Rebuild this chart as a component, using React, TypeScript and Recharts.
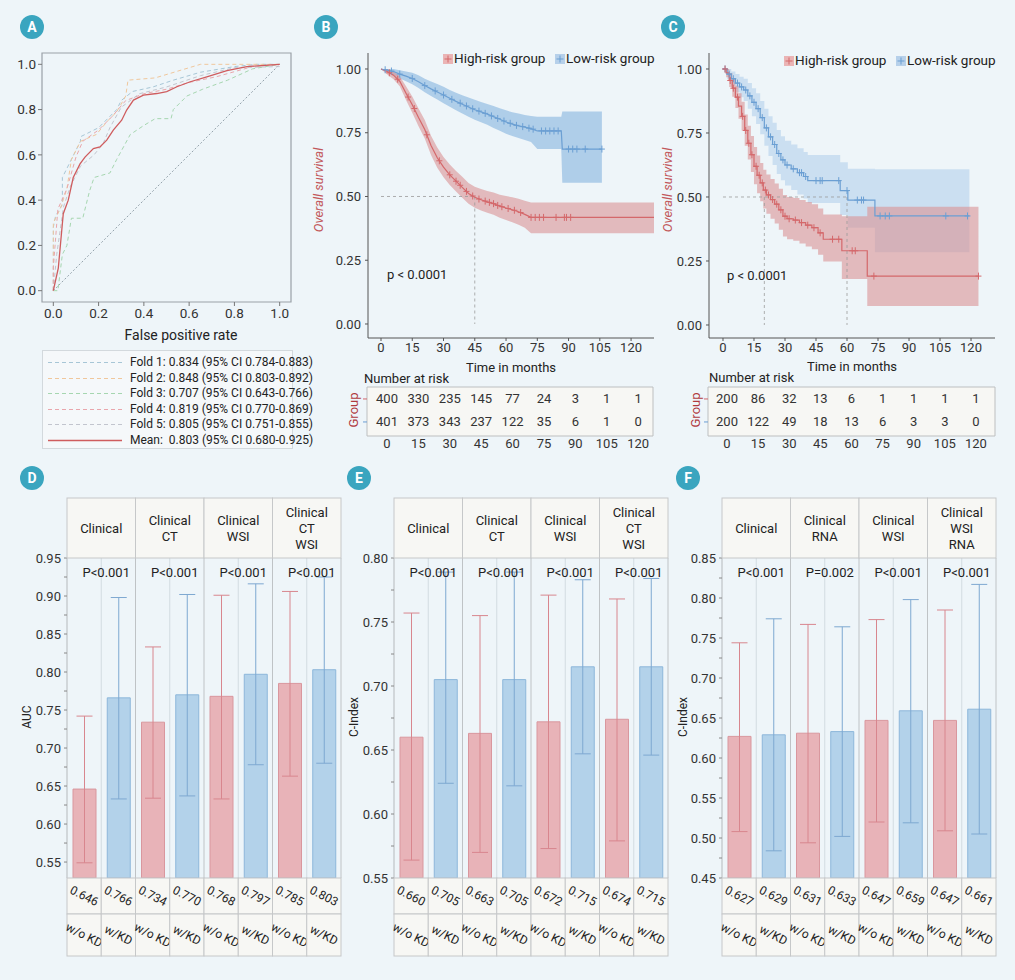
import React from "react";
import {
  LineChart,
  Line,
  XAxis,
  YAxis,
  ReferenceLine,
  ReferenceArea,
  ComposedChart,
  Area,
  Scatter,
  BarChart,
  Bar,
  ErrorBar,
  Cell,
  CartesianGrid,
} from "recharts";

const BG = "#eef5f9";
const TEAL = "#3aa5bf";
const RED = "#d4686b";
const BLUE = "#6b9fd3";
const CELL_FILL = "#f7f7f4";
const CELL_LINE = "#c6c8c9";

// ---------- A: ROC ----------
const rocTicks = [0, 0.2, 0.4, 0.6, 0.8, 1.0];
const fold1Fpr = [0, 0, 0.01, 0.04, 0.04, 0.08, 0.12, 0.12, 0.2, 0.28, 0.3, 0.35, 0.44, 0.53, 0.65, 0.8, 0.9, 1];
const fold1Tpr = [0, 0.28, 0.33, 0.38, 0.5, 0.58, 0.66, 0.68, 0.72, 0.8, 0.84, 0.88, 0.9, 0.93, 0.965, 0.99, 1, 1];
const fold2Fpr = [0, 0, 0.03, 0.06, 0.08, 0.12, 0.19, 0.24, 0.28, 0.32, 0.33, 0.45, 0.55, 0.65, 1];
const fold2Tpr = [0, 0.3, 0.36, 0.45, 0.58, 0.66, 0.69, 0.75, 0.79, 0.86, 0.93, 0.94, 0.97, 1, 1];
const fold3Fpr = [0, 0.02, 0.04, 0.06, 0.08, 0.13, 0.16, 0.18, 0.25, 0.28, 0.34, 0.4, 0.45, 0.52, 0.53, 0.59, 0.66, 0.77, 0.88, 1];
const fold3Tpr = [0, 0, 0.16, 0.2, 0.32, 0.32, 0.44, 0.5, 0.52, 0.58, 0.69, 0.73, 0.76, 0.76, 0.8, 0.86, 0.89, 0.93, 0.98, 1];
const fold4Fpr = [0, 0, 0.02, 0.06, 0.1, 0.13, 0.2, 0.26, 0.32, 0.4, 0.5, 0.6, 0.72, 0.88, 1];
const fold4Tpr = [0, 0.1, 0.36, 0.45, 0.59, 0.66, 0.71, 0.77, 0.84, 0.87, 0.89, 0.92, 0.945, 0.99, 1];
const fold5Fpr = [0, 0.015, 0.045, 0.075, 0.12, 0.18, 0.22, 0.25, 0.3, 0.38, 0.5, 0.65, 0.8, 1];
const fold5Tpr = [0, 0.16, 0.37, 0.46, 0.55, 0.6, 0.65, 0.72, 0.81, 0.87, 0.9, 0.95, 0.985, 0.99];
const meanFpr = [0, 0.022, 0.044, 0.066, 0.088, 0.118, 0.14, 0.177, 0.206, 0.236, 0.265, 0.302, 0.324, 0.354, 0.398, 0.457, 0.501, 0.546, 0.605, 0.678, 0.767, 0.855, 1];
const meanTpr = [0, 0.1, 0.34, 0.4, 0.5, 0.56, 0.59, 0.628, 0.635, 0.665, 0.709, 0.753, 0.798, 0.842, 0.864, 0.871, 0.879, 0.901, 0.923, 0.945, 0.972, 0.99, 1];
const foldLabels = [
  "Fold 1: 0.834 (95% CI 0.784-0.883)",
  "Fold 2: 0.848 (95% CI 0.803-0.892)",
  "Fold 3: 0.707 (95% CI 0.643-0.766)",
  "Fold 4: 0.819 (95% CI 0.770-0.869)",
  "Fold 5: 0.805 (95% CI 0.751-0.855)",
];
const meanLabel = "Mean:  0.803 (95% CI 0.680-0.925)";
const foldColors = ["#a7c6d6", "#f0c79c", "#a6d6b0", "#e9a6ac", "#c2c5ce"];

// ---------- B / C: Kaplan-Meier ----------
const KM_TICKS = [0, 15, 30, 45, 60, 75, 90, 105, 120];
const SURV_TICKS = [0, 0.25, 0.5, 0.75, 1];

const bHighT = [0, 3, 6, 9, 12, 15, 18, 21, 24, 27, 30, 33, 36, 39, 42, 45, 48, 51, 54, 57, 60, 63, 66, 69, 72, 131];
const bHighS = [1, 0.99, 0.976, 0.952, 0.905, 0.86, 0.81, 0.763, 0.7, 0.652, 0.615, 0.585, 0.56, 0.536, 0.512, 0.497, 0.487, 0.479, 0.472, 0.462, 0.455, 0.448, 0.44, 0.43, 0.418, 0.418];
const bHighLo = [1, 0.978, 0.96, 0.932, 0.878, 0.828, 0.775, 0.727, 0.663, 0.613, 0.575, 0.545, 0.52, 0.495, 0.472, 0.456, 0.445, 0.436, 0.428, 0.417, 0.408, 0.399, 0.389, 0.377, 0.356, 0.356];
const bHighHi = [1, 1, 0.99, 0.972, 0.932, 0.892, 0.845, 0.8, 0.738, 0.692, 0.655, 0.625, 0.6, 0.577, 0.553, 0.538, 0.529, 0.522, 0.516, 0.507, 0.502, 0.497, 0.491, 0.483, 0.476, 0.476];
const bLowT = [0, 3, 6, 9, 12, 15, 18, 21, 24, 27, 30, 33, 36, 39, 42, 45, 48, 51, 54, 57, 60, 63, 66, 69, 72, 75, 86.5, 87, 106];
const bLowS = [1, 0.995, 0.99, 0.98, 0.972, 0.963, 0.95, 0.935, 0.922, 0.91, 0.898, 0.885, 0.873, 0.862, 0.851, 0.84, 0.832, 0.823, 0.813, 0.803, 0.792, 0.784, 0.777, 0.772, 0.766, 0.757, 0.757, 0.686, 0.686];
const bLowLo = [1, 0.986, 0.976, 0.963, 0.952, 0.94, 0.925, 0.909, 0.894, 0.88, 0.866, 0.852, 0.838, 0.825, 0.813, 0.801, 0.791, 0.781, 0.769, 0.758, 0.746, 0.737, 0.729, 0.722, 0.714, 0.686, 0.686, 0.554, 0.554];
const bLowHi = [1, 1, 1, 0.995, 0.99, 0.985, 0.975, 0.962, 0.951, 0.941, 0.93, 0.918, 0.907, 0.897, 0.888, 0.879, 0.871, 0.863, 0.855, 0.846, 0.838, 0.83, 0.825, 0.82, 0.816, 0.813, 0.813, 0.833, 0.833];
const bHighCensorT = [4, 8, 13, 16, 22, 28, 33, 36, 38, 41, 44, 47, 50, 52, 54, 56, 58, 61, 64, 67, 72, 74, 76, 78, 84, 88, 89, 91];
const bHighCensorS = [0.985, 0.96, 0.89, 0.845, 0.742, 0.64, 0.585, 0.56, 0.544, 0.52, 0.502, 0.49, 0.482, 0.477, 0.472, 0.465, 0.46, 0.453, 0.446, 0.437, 0.418, 0.418, 0.418, 0.418, 0.418, 0.418, 0.418, 0.418];
const bLowCensorT = [2, 5, 9, 15, 21, 26, 30, 34, 38, 41, 44, 47, 50, 53, 56, 59, 62, 65, 68, 71, 73, 77, 79, 81, 83, 85, 90, 92, 94, 98, 106];
const bLowCensorS = [0.997, 0.992, 0.98, 0.963, 0.935, 0.914, 0.898, 0.881, 0.866, 0.855, 0.844, 0.835, 0.826, 0.816, 0.806, 0.796, 0.787, 0.779, 0.774, 0.768, 0.764, 0.757, 0.757, 0.757, 0.757, 0.757, 0.686, 0.686, 0.686, 0.686, 0.686];
const bMedians = [45];
const bRiskHigh = [400, 330, 235, 145, 77, 24, 3, 1, 1];
const bRiskLow = [401, 373, 343, 237, 122, 35, 6, 1, 0];

const cHighT = [0, 1.5, 3, 4.5, 6, 7.5, 9, 10.5, 12, 13.5, 15, 16.5, 18, 19.5, 21, 23, 25, 27, 29, 31, 34, 37, 40, 43, 46, 48.5, 57.5, 69.8, 123.6];
const cHighS = [1, 0.985, 0.955, 0.925, 0.89, 0.855, 0.815, 0.76, 0.71, 0.665, 0.62, 0.585, 0.555, 0.527, 0.508, 0.49, 0.472, 0.45, 0.425, 0.415, 0.41, 0.4, 0.39, 0.38, 0.36, 0.335, 0.29, 0.191, 0.191];
const cHighLo = [1, 0.968, 0.93, 0.892, 0.848, 0.806, 0.76, 0.7, 0.646, 0.598, 0.55, 0.515, 0.483, 0.455, 0.435, 0.415, 0.396, 0.372, 0.346, 0.335, 0.329, 0.318, 0.307, 0.296, 0.274, 0.248, 0.18, 0.074, 0.074];
const cHighHi = [1, 1, 0.984, 0.962, 0.935, 0.905, 0.872, 0.822, 0.778, 0.738, 0.695, 0.662, 0.633, 0.606, 0.588, 0.57, 0.553, 0.532, 0.508, 0.5, 0.496, 0.488, 0.48, 0.472, 0.455, 0.432, 0.425, 0.462, 0.462];
const cLowT = [0, 2, 4, 6, 8, 10, 12, 14, 16, 18, 20, 22, 24, 26, 28, 30, 33, 36, 39, 41, 56.7, 60.4, 73.5, 119.2];
const cLowS = [1, 0.98, 0.962, 0.945, 0.93, 0.918, 0.895, 0.87, 0.845, 0.81, 0.77, 0.735, 0.705, 0.67, 0.645, 0.625, 0.61, 0.595, 0.58, 0.564, 0.525, 0.488, 0.426, 0.426];
const cLowLo = [1, 0.96, 0.935, 0.91, 0.89, 0.875, 0.845, 0.815, 0.785, 0.745, 0.7, 0.66, 0.625, 0.59, 0.565, 0.545, 0.527, 0.51, 0.494, 0.477, 0.43, 0.38, 0.284, 0.284];
const cLowHi = [1, 1, 0.99, 0.98, 0.97, 0.962, 0.945, 0.925, 0.905, 0.875, 0.845, 0.815, 0.79, 0.762, 0.737, 0.72, 0.705, 0.69, 0.676, 0.664, 0.636, 0.61, 0.608, 0.608];
const cHighCensorT = [1, 3.5, 5, 7, 9.5, 11, 12.5, 14, 16, 17.5, 19, 20.5, 22, 24, 26, 28, 30, 32, 35, 38, 41, 44, 47, 53, 56, 62.5, 64, 73, 123.6];
const cHighCensorS = [1, 0.955, 0.925, 0.89, 0.815, 0.76, 0.71, 0.665, 0.62, 0.585, 0.555, 0.527, 0.508, 0.49, 0.472, 0.45, 0.425, 0.415, 0.41, 0.4, 0.39, 0.38, 0.36, 0.335, 0.335, 0.29, 0.29, 0.191, 0.191];
const cLowCensorT = [1, 3, 5, 7, 9, 11, 13, 15, 17, 19, 21, 23, 25, 27, 29, 31, 34, 37, 38, 40, 45, 47, 48, 56, 60, 65, 67, 68, 76, 78.5, 80.5, 107.8, 118.3];
const cLowCensorS = [1, 0.98, 0.962, 0.945, 0.93, 0.918, 0.895, 0.87, 0.845, 0.81, 0.77, 0.735, 0.705, 0.67, 0.645, 0.625, 0.61, 0.595, 0.595, 0.58, 0.564, 0.564, 0.564, 0.564, 0.525, 0.488, 0.488, 0.488, 0.426, 0.426, 0.426, 0.426, 0.426];
const cMedians = [20, 60];
const cRiskHigh = [200, 86, 32, 13, 6, 1, 1, 1, 1];
const cRiskLow = [200, 122, 49, 18, 13, 6, 3, 3, 0];

// ---------- D / E / F: bars ----------
const kdLabels = ["w/o KD", "w/KD"];
const dGroups = ["Clinical", "Clinical\nCT", "Clinical\nWSI", "Clinical\nCT\nWSI"];
const dPvals = ["P<0.001", "P<0.001", "P<0.001", "P<0.001"];
const dValues = [0.646, 0.766, 0.734, 0.77, 0.768, 0.797, 0.785, 0.803];
const dLow = [0.549, 0.633, 0.634, 0.637, 0.633, 0.678, 0.663, 0.68];
const dHigh = [0.742, 0.898, 0.833, 0.902, 0.901, 0.916, 0.906, 0.925];
const dTicks = [0.55, 0.575, 0.6, 0.625, 0.65, 0.675, 0.7, 0.725, 0.75, 0.775, 0.8, 0.825, 0.85, 0.875, 0.9, 0.925, 0.95];

const eGroups = ["Clinical", "Clinical\nCT", "Clinical\nWSI", "Clinical\nCT\nWSI"];
const ePvals = ["P<0.001", "P<0.001", "P<0.001", "P<0.001"];
const eValues = [0.66, 0.705, 0.663, 0.705, 0.672, 0.715, 0.674, 0.715];
const eLow = [0.564, 0.624, 0.57, 0.622, 0.573, 0.647, 0.579, 0.646];
const eHigh = [0.757, 0.789, 0.755, 0.789, 0.771, 0.783, 0.768, 0.784];
const eTicks = [0.55, 0.575, 0.6, 0.625, 0.65, 0.675, 0.7, 0.725, 0.75, 0.775, 0.8];

const fGroups = ["Clinical", "Clinical\nRNA", "Clinical\nWSI", "Clinical\nWSI\nRNA"];
const fPvals = ["P<0.001", "P=0.002", "P<0.001", "P<0.001"];
const fValues = [0.627, 0.629, 0.631, 0.633, 0.647, 0.659, 0.647, 0.661];
const fLow = [0.508, 0.484, 0.494, 0.502, 0.52, 0.519, 0.509, 0.505];
const fHigh = [0.744, 0.774, 0.767, 0.764, 0.773, 0.798, 0.785, 0.817];
const fTicks = [0.45, 0.475, 0.5, 0.525, 0.55, 0.575, 0.6, 0.625, 0.65, 0.675, 0.7, 0.725, 0.75, 0.775, 0.8, 0.825, 0.85];

// ---------- helpers ----------
function Tx({ x, y, children, size = 13, anchor = "start", rotate = 0, color = "#222", style = {} }: any) {
  const tx = anchor === "middle" ? "-50%" : anchor === "end" ? "-100%" : "0";
  return (
    <div
      style={{
        position: "absolute",
        left: x,
        top: y,
        transform: `translate(${tx}, -50%) rotate(${rotate}deg)`,
        fontSize: size,
        color,
        whiteSpace: "nowrap",
        lineHeight: 1,
        ...style,
      }}
    >
      {children}
    </div>
  );
}

function PanelTag({ x, y, letter }: any) {
  return (
    <div
      style={{
        position: "absolute",
        left: x - 12,
        top: y - 12,
        width: 24,
        height: 24,
        borderRadius: 12,
        background: TEAL,
        color: "#fff",
        fontWeight: 700,
        fontSize: 14,
        lineHeight: "24px",
        textAlign: "center",
      }}
    >
      {letter}
    </div>
  );
}

const zip = (xs: number[], ys: number[]) => xs.map((x, i) => ({ x, y: ys[i] }));
const kmRows = (t: number[], s: number[], lo: number[], hi: number[]) =>
  t.map((v, i) => ({ t: v, s: s[i], lo: lo[i], hi: hi[i] }));
const censorRows = (t: number[], s: number[]) => t.map((v, i) => ({ t: v, s: s[i] }));

const plusShape = (color: string) => (p: any) => (
  <g>
    <line x1={p.cx} x2={p.cx} y1={p.cy - 3.5} y2={p.cy + 3.5} stroke={color} strokeWidth={1} />
    <line x1={p.cx - 3} x2={p.cx + 3} y1={p.cy} y2={p.cy} stroke={color} strokeWidth={1} />
  </g>
);

function RocPanel() {
  const folds = [
    zip(fold1Fpr, fold1Tpr),
    zip(fold2Fpr, fold2Tpr),
    zip(fold3Fpr, fold3Tpr),
    zip(fold4Fpr, fold4Tpr),
    zip(fold5Fpr, fold5Tpr),
  ];
  return (
    <LineChart width={300} height={345} margin={{ top: 53, right: 9, left: 8, bottom: 3 }}>
      <XAxis
        type="number"
        dataKey="x"
        domain={[-0.05, 1.05]}
        ticks={rocTicks}
        allowDataOverflow
        interval={0}
        height={40}
        axisLine={false}
        tickLine={{ stroke: "#777" }}
        tickSize={4}
        tickMargin={2}
        tickFormatter={(v) => v.toFixed(1)}
        tick={{ fontSize: 13.5, fill: "#333" }}
      />
      <YAxis
        type="number"
        domain={[-0.05, 1.05]}
        ticks={rocTicks}
        allowDataOverflow
        interval={0}
        width={34}
        axisLine={false}
        tickLine={{ stroke: "#777" }}
        tickSize={4}
        tickMargin={2}
        tickFormatter={(v) => v.toFixed(1)}
        tick={{ fontSize: 13.5, fill: "#333" }}
      />
      <ReferenceArea x1={-0.05} x2={1.05} y1={-0.05} y2={1.05} fill="none" stroke="#9aa1a7" strokeWidth={1.2} />
      <ReferenceLine
        segment={[
          { x: 0, y: 0 },
          { x: 1, y: 1 },
        ]}
        stroke="#7f8e98"
        strokeDasharray="2 2"
        strokeWidth={0.8}
      />
      {folds.map((d, i) => (
        <Line
          key={i}
          data={d}
          dataKey="y"
          type="linear"
          stroke={foldColors[i]}
          strokeWidth={1}
          strokeDasharray="4 3"
          dot={false}
          isAnimationActive={false}
        />
      ))}
      <Line
        data={zip(meanFpr, meanTpr)}
        dataKey="y"
        type="linear"
        stroke="#cf5c5e"
        strokeWidth={1.3}
        dot={false}
        isAnimationActive={false}
      />
    </LineChart>
  );
}

function RocLegend() {
  const rows = [...foldLabels.map((l, i) => ({ l, c: foldColors[i], dash: "4 3" })), { l: meanLabel, c: "#cf5c5e", dash: "" }];
  return (
    <div
      style={{
        position: "absolute",
        left: 42,
        top: 350,
        width: 251,
        height: 99,
        background: "#f5f8fa",
        border: "1px solid #d3d9dd",
        boxSizing: "border-box",
      }}
    >
      {rows.map((r, i) => (
        <div key={i} style={{ position: "absolute", left: 0, top: 4 + i * 15.5, height: 15, width: 250 }}>
          <svg width={80} height={15} style={{ position: "absolute", left: 5, top: 0 }}>
            <line x1={0} x2={74} y1={7.5} y2={7.5} stroke={r.c} strokeWidth={r.dash ? 1 : 1.4} strokeDasharray={r.dash} />
          </svg>
          <div style={{ position: "absolute", left: 87, top: 0, fontSize: 12, lineHeight: "15px", color: "#222", whiteSpace: "pre" }}>
            {r.l}
          </div>
        </div>
      ))}
    </div>
  );
}

function KmPlot({ high, low, highCensor, lowCensor, domainX, domainY, marginLeft, marginRight, curve, medians, lowFill, lowOpacity }: any) {
  return (
    <ComposedChart width={360} height={372} margin={{ top: 53, right: marginRight, left: marginLeft, bottom: 0 }}>
      <XAxis
        type="number"
        dataKey="t"
        domain={domainX}
        ticks={KM_TICKS}
        allowDataOverflow
        interval={0}
        height={34}
        stroke="#555"
        tickSize={3}
        tickMargin={2}
        tick={{ fontSize: 13, fill: "#333" }}
      />
      <YAxis
        type="number"
        domain={domainY}
        ticks={SURV_TICKS}
        allowDataOverflow
        interval={0}
        width={50}
        stroke="#555"
        tickSize={3}
        tickMargin={4}
        tickFormatter={(v) => v.toFixed(2)}
        tick={{ fontSize: 13, fill: "#333" }}
      />
      <Area
        data={low}
        dataKey={(d: any) => [d.lo, d.hi]}
        type={curve}
        stroke="none"
        fill={lowFill}
        fillOpacity={lowOpacity}
        isAnimationActive={false}
      />
      <Area
        data={high}
        dataKey={(d: any) => [d.lo, d.hi]}
        type={curve}
        stroke="none"
        fill="#da9294"
        fillOpacity={0.6}
        isAnimationActive={false}
      />
      <ReferenceLine
        segment={[
          { x: 0, y: 0.5 },
          { x: medians[medians.length - 1], y: 0.5 },
        ]}
        stroke="#9a9a9a"
        strokeDasharray="3 3"
        strokeWidth={0.8}
      />
      {medians.map((m: number) => (
        <ReferenceLine
          key={m}
          segment={[
            { x: m, y: 0.5 },
            { x: m, y: 0 },
          ]}
          stroke="#9a9a9a"
          strokeDasharray="3 3"
          strokeWidth={0.8}
        />
      ))}
      <Line data={low} dataKey="s" type={curve} stroke={BLUE} strokeWidth={1.2} dot={false} isAnimationActive={false} />
      <Line data={high} dataKey="s" type={curve} stroke={RED} strokeWidth={1.2} dot={false} isAnimationActive={false} />
      <Scatter data={lowCensor} dataKey="s" shape={plusShape(BLUE)} isAnimationActive={false} />
      <Scatter data={highCensor} dataKey="s" shape={plusShape(RED)} isAnimationActive={false} />
    </ComposedChart>
  );
}

function RiskTable({ highN, lowN, domainX, marginLeft, marginRight }: any) {
  const rows = [
    ...KM_TICKS.map((t, i) => ({ t, row: 2, n: highN[i] })),
    ...KM_TICKS.map((t, i) => ({ t, row: 1, n: lowN[i] })),
  ];
  const rowTick = (p: any) => (
    <line
      x1={p.x - 4}
      x2={p.x}
      y1={p.y}
      y2={p.y}
      stroke={p.payload.value === 2 ? RED : BLUE}
      strokeWidth={1}
    />
  );
  return (
    <ComposedChart width={360} height={85} margin={{ top: 17, right: marginRight, left: marginLeft, bottom: 0 }}>
      <XAxis
        type="number"
        dataKey="t"
        domain={domainX}
        ticks={KM_TICKS}
        allowDataOverflow
        interval={0}
        height={19}
        axisLine={false}
        tickLine={false}
        tickSize={0}
        tickMargin={3}
        tick={{ fontSize: 13, fill: "#333" }}
      />
      <YAxis
        type="number"
        domain={[0.39, 2.52]}
        ticks={[1, 2]}
        allowDataOverflow
        width={20}
        axisLine={false}
        tickLine={false}
        tickSize={0}
        tickMargin={0}
        tick={rowTick}
      />
      <ReferenceArea x1={domainX[0]} x2={domainX[1]} y1={0.39} y2={2.52} fill={CELL_FILL} fillOpacity={1} stroke="#bdbfc0" />
      <Scatter
        data={rows}
        dataKey="row"
        isAnimationActive={false}
        shape={(p: any) => (
          <text x={p.cx} y={p.cy} textAnchor="middle" dominantBaseline="central" fontSize={13} fill="#333">
            {p.payload.n}
          </text>
        )}
      />
    </ComposedChart>
  );
}

function KmLegend({ y, redIcon, redText, blueIcon, blueText }: any) {
  const icon = (x: number, fill: string, stroke: string) => (
    <svg width={10} height={10} style={{ position: "absolute", left: x, top: y - 5 }}>
      <rect x={0} y={0} width={10} height={10} fill={fill} />
      <line x1={5} x2={5} y1={1.5} y2={8.5} stroke={stroke} strokeWidth={1} />
      <line x1={1.5} x2={8.5} y1={5} y2={5} stroke={stroke} strokeWidth={1} />
    </svg>
  );
  return (
    <>
      {icon(redIcon, "#eab4b5", RED)}
      <Tx x={redText} y={y} size={13.5}>High-risk group</Tx>
      {icon(blueIcon, "#b6d0ea", BLUE)}
      <Tx x={blueText} y={y} size={13.5}>Low-risk group</Tx>
    </>
  );
}

const PLOT_H = 320;
const HEAD_H = 60;
const CW = 274 / 8;

function BarPanel({ values, lows, highs, groups, pvals, ticks, domain }: any) {
  const rows = values.map((v: number, i: number) => ({
    key: String(i),
    v,
    eR: i % 2 === 0 ? [v - lows[i], highs[i] - v] : undefined,
    eB: i % 2 === 1 ? [v - lows[i], highs[i] - v] : undefined,
  }));

  const bottomTick = (p: any) => {
    const { x, y, index } = p;
    const g = Math.floor(index / 2);
    const lines = index % 2 === 0 ? groups[g].split("\n") : [];
    const headTop = y - PLOT_H - HEAD_H;
    return (
      <g>
        {index % 2 === 0 && (
          <g>
            <rect x={x - CW / 2} y={headTop} width={CW * 2} height={HEAD_H} fill={CELL_FILL} stroke={CELL_LINE} />
            {lines.map((ln: string, k: number) => (
              <text
                key={k}
                x={x + CW / 2}
                y={headTop + HEAD_H / 2 + (k - (lines.length - 1) / 2) * 16}
                textAnchor="middle"
                dominantBaseline="central"
                fontSize={13}
                fill="#222"
              >
                {ln}
              </text>
            ))}
            <text x={x + CW / 2 + 5} y={y - PLOT_H + 14} textAnchor="middle" dominantBaseline="central" fontSize={13} fill="#222">
              {pvals[g]}
            </text>
          </g>
        )}
        <rect x={x - CW / 2} y={y} width={CW} height={36} fill={CELL_FILL} stroke={CELL_LINE} />
        <text
          transform={`translate(${x},${y + 18}) rotate(27)`}
          textAnchor="middle"
          dominantBaseline="central"
          fontSize={12}
          fill="#222"
        >
          {values[index].toFixed(3)}
        </text>
        <rect x={x - CW / 2} y={y + 36} width={CW} height={42} fill={CELL_FILL} stroke={CELL_LINE} />
        <text
          transform={`translate(${x},${y + 57}) rotate(27)`}
          textAnchor="middle"
          dominantBaseline="central"
          fontSize={12}
          fill="#222"
        >
          {kdLabels[index % 2]}
        </text>
      </g>
    );
  };

  const yTick = (p: any) => {
    const v = p.payload.value;
    const major = Math.round(v * 1000) % 50 === 0;
    if (!major) return <g />;
    return (
      <text x={p.x} y={p.y} textAnchor="end" dominantBaseline="central" fontSize={13} fill="#333">
        {v.toFixed(2)}
      </text>
    );
  };

  return (
    <BarChart width={342} height={470} data={rows} margin={{ top: 68, right: 8, left: 16, bottom: 4 }}>
      <CartesianGrid
        horizontal={false}
        stroke="#d2dbe1"
        verticalCoordinatesGenerator={({ offset }: any) => [1, 3, 5, 7].map((i) => offset.left + (i * offset.width) / 8)}
      />
      <CartesianGrid
        horizontal={false}
        stroke="#bfc3c6"
        verticalCoordinatesGenerator={({ offset }: any) => [2, 4, 6, 8].map((i) => offset.left + (i * offset.width) / 8)}
      />
      <XAxis
        dataKey="key"
        height={78}
        interval={0}
        axisLine={false}
        tickLine={false}
        tickSize={0}
        tickMargin={0}
        tick={bottomTick}
      />
      <YAxis
        type="number"
        domain={domain}
        ticks={ticks}
        allowDataOverflow
        interval={0}
        width={44}
        stroke="#b5b9bc"
        tickLine={{ stroke: "#888" }}
        tickSize={3}
        tickMargin={3}
        tick={yTick}
      />
      <Bar dataKey="v" barSize={23} isAnimationActive={false}>
        {rows.map((_: any, i: number) => (
          <Cell
            key={i}
            fill={i % 2 === 0 ? "#e8b3b8" : "#b3d2ea"}
            stroke={i % 2 === 0 ? "#d9979e" : "#8db7da"}
            strokeWidth={1}
          />
        ))}
        <ErrorBar dataKey="eR" direction="y" width={8} stroke="#d8868e" strokeWidth={1} />
        <ErrorBar dataKey="eB" direction="y" width={8} stroke="#7ea8d1" strokeWidth={1} />
      </Bar>
    </BarChart>
  );
}

export default function App() {
  const bHigh = kmRows(bHighT, bHighS, bHighLo, bHighHi);
  const bLow = kmRows(bLowT, bLowS, bLowLo, bLowHi);
  const cHigh = kmRows(cHighT, cHighS, cHighLo, cHighHi);
  const cLow = kmRows(cLowT, cLowS, cLowLo, cLowHi);

  return (
    <div
      style={{
        position: "absolute",
        left: 0,
        top: 0,
        width: 1015,
        height: 980,
        background: BG,
        overflow: "hidden",
        fontFamily: "Roboto, 'Noto Sans', sans-serif",
        color: "#222",
      }}
    >
      {/* A */}
      <div style={{ position: "absolute", left: 0, top: 0 }}>
        <RocPanel />
      </div>
      <Tx x={181} y={335} anchor="middle" size={14}>
        False positive rate
      </Tx>
      <RocLegend />

      {/* B */}
      <div style={{ position: "absolute", left: 300, top: 0 }}>
        <KmPlot
          high={bHigh}
          low={bLow}
          highCensor={censorRows(bHighCensorT, bHighCensorS)}
          lowCensor={censorRows(bLowCensorT, bLowCensorS)}
          domainX={[-6.24, 131]}
          domainY={[-0.0549, 1.0627]}
          marginLeft={18}
          marginRight={6}
          curve="linear"
          medians={bMedians}
          lowFill="#8db9e1"
          lowOpacity={0.65}
        />
      </div>
      <div style={{ position: "absolute", left: 300, top: 370 }}>
        <RiskTable highN={bRiskHigh} lowN={bRiskLow} domainX={[-9.56, 127.1]} marginLeft={47} marginRight={7} />
      </div>
      <KmLegend y={59} redIcon={443} redText={454} blueIcon={555} blueText={566} />
      <Tx x={387} y={274}>p &lt; 0.0001</Tx>
      <Tx x={318} y={190} anchor="middle" rotate={-90} color="#c2585b" style={{ fontStyle: "italic" }}>
        Overall survival
      </Tx>
      <Tx x={511} y={367} anchor="middle">Time in months</Tx>
      <Tx x={364} y={378}>Number at risk</Tx>
      <Tx x={353} y={410} anchor="middle" rotate={-90} color="#b03a3e">Group</Tx>

      {/* C */}
      <div style={{ position: "absolute", left: 650, top: 0 }}>
        <KmPlot
          high={cHigh}
          low={cLow}
          highCensor={censorRows(cHighCensorT, cHighCensorS)}
          lowCensor={censorRows(cLowCensorT, cLowCensorS)}
          domainX={[-6.77, 131.6]}
          domainY={[-0.0508, 1.0625]}
          marginLeft={9}
          marginRight={15}
          curve="stepAfter"
          medians={cMedians}
          lowFill="#bcd6ee"
          lowOpacity={0.7}
        />
      </div>
      <div style={{ position: "absolute", left: 650, top: 370 }}>
        <RiskTable highN={cRiskHigh} lowN={cRiskLow} domainX={[-9.16, 129.2]} marginLeft={38} marginRight={15} />
      </div>
      <KmLegend y={61} redIcon={784} redText={795} blueIcon={896} blueText={907} />
      <Tx x={727} y={275}>p &lt; 0.0001</Tx>
      <Tx x={667} y={190} anchor="middle" rotate={-90} color="#c2585b" style={{ fontStyle: "italic" }}>
        Overall survival
      </Tx>
      <Tx x={852} y={366} anchor="middle">Time in months</Tx>
      <Tx x={709} y={377}>Number at risk</Tx>
      <Tx x={695} y={410} anchor="middle" rotate={-90} color="#b03a3e">Group</Tx>

      {/* D */}
      <div style={{ position: "absolute", left: 7, top: 490 }}>
        <BarPanel values={dValues} lows={dLow} highs={dHigh} groups={dGroups} pvals={dPvals} ticks={dTicks} domain={[0.529, 0.95]} />
      </div>
      <Tx x={27} y={717} anchor="middle" rotate={-90} size={12}>AUC</Tx>

      {/* E */}
      <div style={{ position: "absolute", left: 334, top: 490 }}>
        <BarPanel values={eValues} lows={eLow} highs={eHigh} groups={eGroups} pvals={ePvals} ticks={eTicks} domain={[0.55, 0.8]} />
      </div>
      <Tx x={354} y={717} anchor="middle" rotate={-90} size={12}>C-Index</Tx>

      {/* F */}
      <div style={{ position: "absolute", left: 662, top: 490 }}>
        <BarPanel values={fValues} lows={fLow} highs={fHigh} groups={fGroups} pvals={fPvals} ticks={fTicks} domain={[0.45, 0.85]} />
      </div>
      <Tx x={683} y={717} anchor="middle" rotate={-90} size={12}>C-Index</Tx>

      <PanelTag x={32} y={27} letter="A" />
      <PanelTag x={326} y={27} letter="B" />
      <PanelTag x={673} y={27} letter="C" />
      <PanelTag x={32} y={478} letter="D" />
      <PanelTag x={359} y={478} letter="E" />
      <PanelTag x={688} y={478} letter="F" />
    </div>
  );
}
